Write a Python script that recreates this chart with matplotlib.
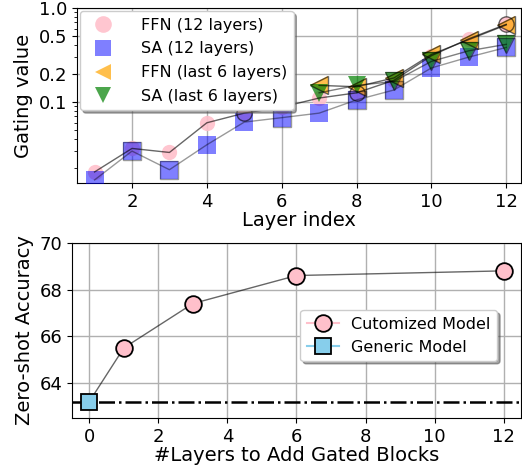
import numpy as np
import matplotlib
matplotlib.use('Agg')
import matplotlib.pyplot as plt
from matplotlib.lines import Line2D

plt.rcParams['font.size'] = 13
plt.rcParams['axes.labelsize'] = 14

layers = [1, 2, 3, 4, 5, 6, 7, 8, 9, 10, 11, 12]
ffn_12 = [0.018, 0.032, 0.029, 0.060, 0.076, 0.088, 0.110, 0.125, 0.170, 0.310, 0.470, 0.670]
sa_12 = [0.0148, 0.030, 0.019, 0.035, 0.061, 0.068, 0.076, 0.105, 0.134, 0.230, 0.300, 0.380]
layers_last6 = [7, 8, 9, 10, 11, 12]
ffn_6 = [0.150, 0.145, 0.180, 0.320, 0.460, 0.660]
sa_6 = [0.125, 0.150, 0.165, 0.270, 0.350, 0.410]

n_layers = [1, 3, 6, 12]
acc_custom = [65.5, 67.4, 68.6, 68.8]
acc_generic = 63.2

fig = plt.figure(figsize=(5.22, 4.67), dpi=100)

# ---- top: gating values
ax1 = fig.add_axes([0.1475, 0.608, 0.851, 0.375])
ax1.set_yscale('log')
ax1.grid(True, which='major', color='#b0b0b0', lw=1)

ax1.plot(layers, ffn_12, 'o', color='pink', ms=11, mew=0, alpha=0.9, zorder=3)
ax1.plot(layers, sa_12, 's', color='blue', ms=13, mew=0, alpha=0.5, zorder=3)
ax1.plot(layers_last6, ffn_6, '<', color='orange', ms=13, mew=0, alpha=0.7, zorder=4)
ax1.plot(layers_last6, sa_6, 'v', color='green', ms=13, mew=0, alpha=0.7, zorder=4)

# connecting lines (with edges on some of the markers)
ax1.plot(layers, ffn_12, '-o', color='k', alpha=0.6, lw=1, ms=11, mfc='none',
         markevery=[4, 7, 11], zorder=5)
ax1.plot(layers, sa_12, '-s', color='k', alpha=0.4, lw=1, ms=13, mfc='none',
         markevery=[1, 2, 5, 7, 8, 11], zorder=5)
ax1.plot(layers_last6, ffn_6, '-<', color='k', alpha=0.6, lw=1, ms=13, mfc='none', zorder=5)
ax1.plot(layers_last6, sa_6, '-v', color='k', alpha=0.5, lw=1, ms=13, mfc='none',
         markevery=[2, 3, 4, 5], zorder=5)

ax1.set_xlim(0.53, 12.4)
ax1.set_ylim(0.0137, 1.0)
ax1.set_yticks([0.1, 0.2, 0.5, 1.0])
ax1.set_yticklabels(['0.1', '0.2', '0.5', '1.0'])
ax1.set_xticks([2, 4, 6, 8, 10, 12])
ax1.set_xlabel('Layer index', labelpad=0)
ax1.set_ylabel('Gating value')

handles1 = [
    Line2D([], [], ls='none', marker='o', color='pink', ms=12, mew=0, alpha=0.9),
    Line2D([], [], ls='none', marker='s', color='blue', ms=12, mew=0, alpha=0.5),
    Line2D([], [], ls='none', marker='<', color='orange', ms=12, mew=0, alpha=0.7),
    Line2D([], [], ls='none', marker='v', color='green', ms=12, mew=0, alpha=0.7),
]
ax1.legend(handles1, ['FFN (12 layers)', 'SA (12 layers)', 'FFN (last 6 layers)',
                      'SA (last 6 layers)'],
           loc='upper left', fontsize=11.5, shadow=True, fancybox=True,
           borderaxespad=0.2, labelspacing=0.55, handletextpad=1.4)

# ---- bottom: zero-shot accuracy
ax2 = fig.add_axes([0.138, 0.105, 0.860, 0.375])
ax2.grid(True, color='#b0b0b0', lw=1)
ax2.plot([0] + n_layers, [acc_generic] + acc_custom, '-', color='k', alpha=0.6, lw=1, zorder=3)
ax2.axhline(acc_generic, color='k', ls='-.', lw=1.8, zorder=2)
ax2.plot(n_layers, acc_custom, 'o', mfc='pink', mec='k', ms=12, mew=1.3, zorder=4)
ax2.plot([0], [acc_generic], 's', mfc='skyblue', mec='k', ms=12, mew=1.3, zorder=4)

ax2.set_xlim(-0.5, 12.5)
ax2.set_ylim(62.5, 70)
ax2.set_yticks([64, 66, 68, 70])
ax2.set_xticks([0, 2, 4, 6, 8, 10, 12])
ax2.set_xlabel('#Layers to Add Gated Blocks', labelpad=0)
ax2.set_ylabel('Zero-shot Accuracy')

handles2 = [
    Line2D([], [], color='pink', marker='o', mfc='pink', mec='k', ms=12, mew=1.3),
    Line2D([], [], color='skyblue', marker='s', mfc='skyblue', mec='k', ms=12, mew=1.3),
]
ax2.legend(handles2, ['Cutomized Model', 'Generic Model'], loc='center right',
           bbox_to_anchor=(0.965, 0.47), fontsize=11.5, shadow=True, fancybox=True)

fig.savefig('out.png', dpi=100)
